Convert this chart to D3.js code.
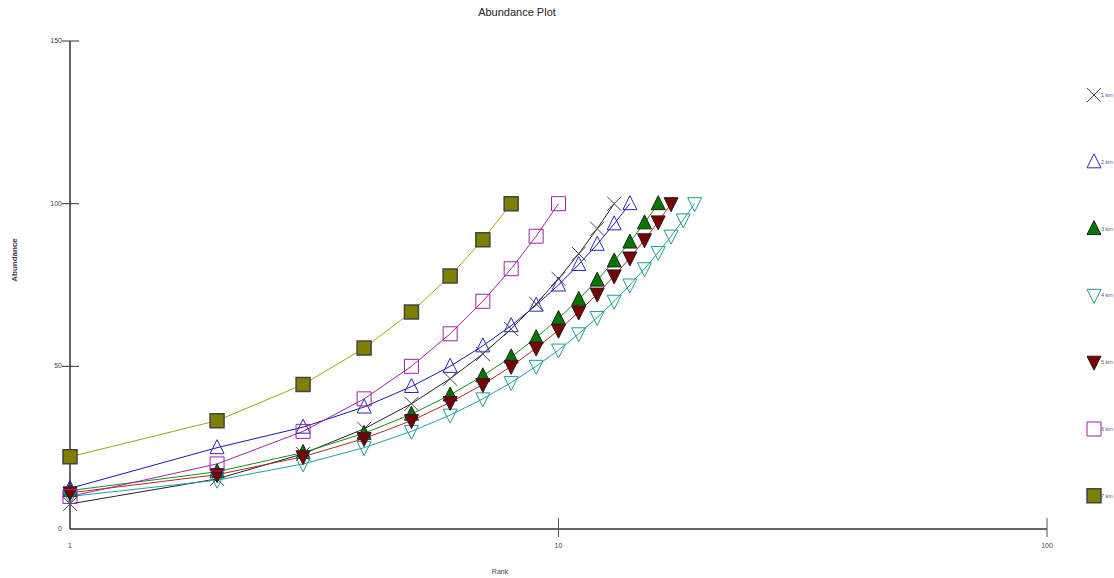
<!DOCTYPE html>
<html>
<head>
<meta charset="utf-8">
<script src="https://cdn.jsdelivr.net/npm/d3@7"></script>
<style>
  body { margin: 0; background: #fff; }
  text { font-family: "Liberation Sans", Arial, sans-serif; }
</style>
</head>
<body>
<script>
// series: cumulative abundance by rank (rank = index + 1)
var seriesNames = ["1 km", "2 km", "3 km", "4 km", "5 km", "6 km", "7 km"];
var km1 = [7.7, 15.4, 23.1, 30.8, 38.5, 46.2, 53.8, 61.5, 69.2, 76.9, 84.6, 92.3, 100];
var km2 = [12.5, 25, 31.3, 37.5, 43.8, 50, 56.3, 62.5, 68.8, 75, 81.3, 87.5, 93.8, 100];
var km3 = [11.8, 17.6, 23.5, 29.4, 35.3, 41.2, 47.1, 52.9, 58.8, 64.7, 70.6, 76.5, 82.4, 88.2, 94.1, 100];
var km4 = [10, 15, 20, 25, 30, 35, 40, 45, 50, 55, 60, 65, 70, 75, 80, 85, 90, 95, 100];
var km5 = [11.1, 16.7, 22.2, 27.8, 33.3, 38.9, 44.4, 50, 55.6, 61.1, 66.7, 72.2, 77.8, 83.3, 88.9, 94.4, 100];
var km6 = [10, 20, 30, 40, 50, 60, 70, 80, 90, 100];
var km7 = [22.2, 33.3, 44.4, 55.6, 66.7, 77.8, 88.9, 100];
var seriesValues = [km1, km2, km3, km4, km5, km6, km7];
var yTicks = [0, 50, 100, 150];
var xTicks = [1, 10, 100];

// styling per series
var styles = [
  { shape: "x",    line: "#222222", stroke: "#444444", fill: "none" },
  { shape: "up",   line: "#1a1aa6", stroke: "#2a2ab8", fill: "none" },
  { shape: "up",   line: "#159015", stroke: "#222222", fill: "#007800" },
  { shape: "down", line: "#22a3a3", stroke: "#1f9b9b", fill: "none" },
  { shape: "down", line: "#b02a2a", stroke: "#222222", fill: "#7a0000" },
  { shape: "sq",   line: "#a424a4", stroke: "#a020a0", fill: "none" },
  { shape: "sq",   line: "#a3a31a", stroke: "#444444", fill: "#7f7f00" }
];

var W = 1114, H = 578;
var svg = d3.select("body").append("svg")
  .attr("width", W)
  .attr("height", H);

var x = d3.scaleLog().domain([1, 100]).range([70, 1047]);
var y = d3.scaleLinear().domain([0, 150]).range([529, 41]);

function shapePath(s) {
  if (s == "x") return "M-7,-7L7,7M-7,7L7,-7";
  if (s == "up") return "M0,-8L7,6L-7,6Z";
  if (s == "down") return "M0,8L7,-6L-7,-6Z";
  return "M-7,-7H7V7H-7Z";
}

// title
svg.append("text")
  .attr("x", 517).attr("y", 16)
  .attr("text-anchor", "middle")
  .attr("font-size", 11)
  .attr("fill", "#222")
  .text("Abundance Plot");

// axes - plain lines with cross ticks
svg.append("line")
  .attr("x1", 70).attr("y1", y(150)).attr("x2", 70).attr("y2", y(0))
  .attr("stroke", "#333").attr("stroke-width", 1.5);
svg.append("line")
  .attr("x1", 70).attr("y1", y(0)).attr("x2", x(100)).attr("y2", y(0))
  .attr("stroke", "#333").attr("stroke-width", 1.5);

yTicks.forEach(function (t) {
  if (t > 0) {
    svg.append("line")
      .attr("x1", 62).attr("x2", 79).attr("y1", y(t)).attr("y2", y(t))
      .attr("stroke", "#333");
  }
  svg.append("text")
    .attr("x", 62).attr("y", y(t) + 2)
    .attr("text-anchor", "end")
    .attr("font-size", 7)
    .attr("fill", "#444")
    .text(t);
});

xTicks.forEach(function (t) {
  if (t > 1) {
    svg.append("line")
      .attr("x1", x(t)).attr("x2", x(t)).attr("y1", y(0) - 11).attr("y2", y(0) + 8)
      .attr("stroke", "#555");
  }
  svg.append("text")
    .attr("x", x(t)).attr("y", 548)
    .attr("text-anchor", "middle")
    .attr("font-size", 7)
    .attr("fill", "#444")
    .text(t);
});

svg.append("text")
  .attr("x", 500).attr("y", 574)
  .attr("text-anchor", "middle")
  .attr("font-size", 7)
  .attr("fill", "#444")
  .text("Rank");

svg.append("text")
  .attr("transform", "translate(17,260) rotate(-90)")
  .attr("text-anchor", "middle")
  .attr("font-size", 8)
  .attr("font-weight", "bold")
  .attr("fill", "#3a3a4a")
  .text("Abundance");

// lines and markers
var line = d3.line()
  .x(function (d, i) { return x(i + 1); })
  .y(function (d) { return y(d); });

seriesValues.forEach(function (vals, k) {
  var st = styles[k];
  svg.append("path")
    .attr("d", line(vals))
    .attr("fill", "none")
    .attr("stroke", st.line)
    .attr("stroke-width", 1);
});

seriesValues.forEach(function (vals, k) {
  var st = styles[k];
  svg.append("g").selectAll("path")
    .data(vals)
    .enter().append("path")
    .attr("transform", function (d, i) { return "translate(" + x(i + 1) + "," + y(d) + ")"; })
    .attr("d", shapePath(st.shape))
    .attr("fill", st.fill)
    .attr("stroke", st.stroke)
    .attr("stroke-width", st.shape == "sq" && st.fill != "none" ? 1.5 : 1);
});

// legend
seriesNames.forEach(function (name, k) {
  var st = styles[k];
  var ly = 95 + k * 66.8;
  svg.append("path")
    .attr("transform", "translate(1094," + ly + ")")
    .attr("d", shapePath(st.shape))
    .attr("fill", st.fill)
    .attr("stroke", st.stroke)
    .attr("stroke-width", st.shape == "sq" && st.fill != "none" ? 1.5 : 1);
  svg.append("text")
    .attr("x", 1101).attr("y", ly + 2)
    .attr("font-size", 5.5)
    .attr("fill", "#4a5a7a")
    .text(name);
});
</script>
</body>
</html>
